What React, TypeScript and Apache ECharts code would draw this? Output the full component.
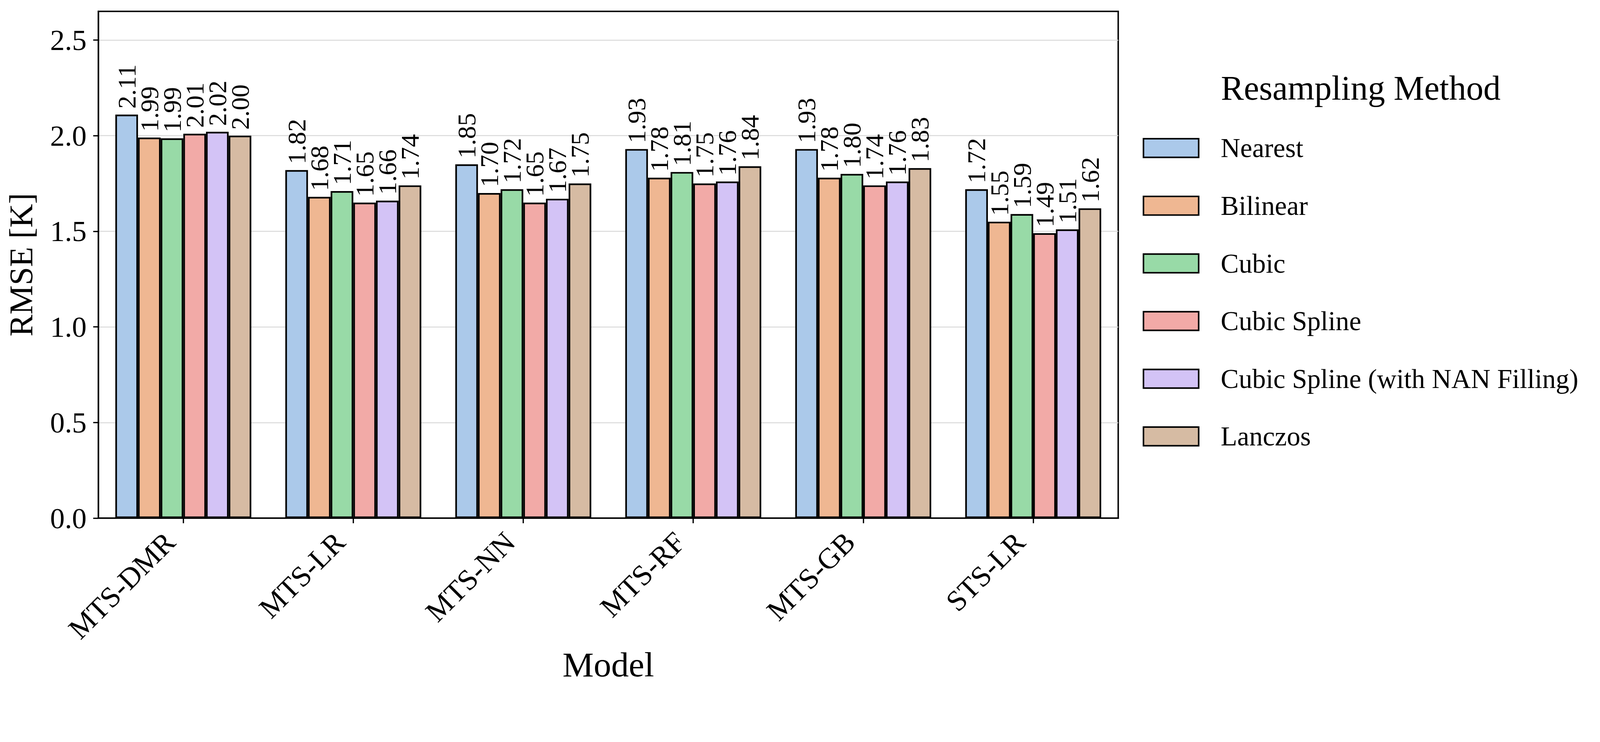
import React, { useEffect, useRef } from "react";
import * as echarts from "echarts";

const categories = ["MTS-DMR", "MTS-LR", "MTS-NN", "MTS-RF", "MTS-GB", "STS-LR"];
const methods = [
  "Nearest",
  "Bilinear",
  "Cubic",
  "Cubic Spline",
  "Cubic Spline (with NAN Filling)",
  "Lanczos",
];
const nearest = [2.11, 1.82, 1.85, 1.93, 1.93, 1.72];
const bilinear = [1.99, 1.68, 1.7, 1.78, 1.78, 1.55];
const cubic = [1.986, 1.71, 1.72, 1.81, 1.8, 1.59];
const cubicSpline = [2.01, 1.65, 1.65, 1.75, 1.74, 1.49];
const cubicSplineNan = [2.02, 1.66, 1.67, 1.76, 1.76, 1.51];
const lanczos = [2.0, 1.74, 1.75, 1.84, 1.83, 1.62];
const seriesValues = [nearest, bilinear, cubic, cubicSpline, cubicSplineNan, lanczos];
const colors = ["#abc9ea", "#efb792", "#98daa7", "#f2aaa7", "#d3c3f6", "#d6bba3"];
const yTicks = [0, 0.5, 1.0, 1.5, 2.0, 2.5];

const FONT = "'Liberation Serif', 'Times New Roman', serif";
const REF_W = 4377;
const REF_H = 1899;

export default function App() {
  const ref = useRef<HTMLDivElement>(null);
  useEffect(() => {
    document.body.style.margin = "0";
    document.documentElement.style.overflow = "hidden";
    if (!ref.current) return;
    const W = window.innerWidth || REF_W;
    const s = W / REF_W;
    const px = (v: number) => v * s;
    ref.current.style.width = `${W}px`;
    ref.current.style.height = `${REF_H * s}px`;
    const chart = echarts.init(ref.current, null, { renderer: "svg" });
    const option: any = {
      animation: false,
      backgroundColor: "#ffffff",
      textStyle: { fontFamily: FONT, color: "#000" },
      title: {
        text: "Resampling Method",
        left: px(3340),
        top: px(194),
        padding: 0,
        textStyle: { fontFamily: FONT, fontSize: px(94), fontWeight: "normal", color: "#000" },
      },
      legend: {
        orient: "vertical",
        left: px(3126),
        top: px(368),
        padding: 0,
        itemWidth: px(151),
        itemHeight: px(51),
        itemGap: px(84),
        icon: "rect",
        data: methods,
        itemStyle: { borderColor: "#000", borderWidth: px(4.2) },
        textStyle: {
          fontFamily: FONT,
          fontSize: px(74),
          color: "#000",
          padding: [0, 0, 0, px(55)],
        },
      },
      grid: {
        left: px(269),
        top: px(31),
        width: px(2790),
        height: px(1386),
        show: true,
        borderColor: "#000",
        borderWidth: px(4),
        backgroundColor: "transparent",
        containLabel: false,
      },
      xAxis: {
        type: "category",
        data: categories,
        boundaryGap: true,
        name: "Model",
        nameLocation: "middle",
        nameGap: px(352),
        nameTextStyle: { fontFamily: FONT, fontSize: px(96), color: "#000" },
        axisLine: { show: true, lineStyle: { color: "#000", width: px(4) } },
        axisTick: {
          show: true,
          alignWithLabel: true,
          length: px(14),
          lineStyle: { color: "#000", width: px(3.5) },
        },
        axisLabel: {
          rotate: 45,
          margin: px(15),
          padding: [0, px(52), 0, 0],
          fontFamily: FONT,
          fontSize: px(80),
          color: "#000",
          interval: 0,
        },
        splitLine: { show: false },
      },
      yAxis: {
        type: "value",
        min: 0,
        max: 2.65,
        interval: 0.5,
        name: "RMSE [K]",
        nameLocation: "middle",
        nameRotate: 90,
        nameGap: px(166),
        nameTextStyle: { fontFamily: FONT, fontSize: px(90), color: "#000" },
        axisLine: { show: true, lineStyle: { color: "#000", width: px(4) } },
        axisTick: {
          show: true,
          length: px(14),
          customValues: yTicks,
          lineStyle: { color: "#000", width: px(3.5) },
        },
        axisLabel: {
          margin: px(32),
          fontFamily: FONT,
          fontSize: px(80),
          color: "#000",
          customValues: yTicks,
          formatter: (v: number) => v.toFixed(1),
        },
        splitLine: { show: true, lineStyle: { color: "#d9d9d9", width: px(2.5) } },
      },
      series: methods.map((m, i) => ({
        name: m,
        type: "bar",
        data: seriesValues[i],
        barGap: "0%",
        barCategoryGap: "20%",
        itemStyle: { color: colors[i], borderColor: "#000", borderWidth: px(4.5) },
        label: {
          show: true,
          position: "top",
          rotate: 90,
          align: "left",
          verticalAlign: "middle",
          distance: px(16),
          padding: [0, 0, px(10), 0],
          fontFamily: FONT,
          fontSize: px(71),
          color: "#000",
          formatter: (p: any) => Number(p.value).toFixed(2),
        },
      })),
    };
    chart.setOption(option);
    return () => chart.dispose();
  }, []);
  return <div ref={ref} style={{ width: "100vw", height: "100vh" }} />;
}
